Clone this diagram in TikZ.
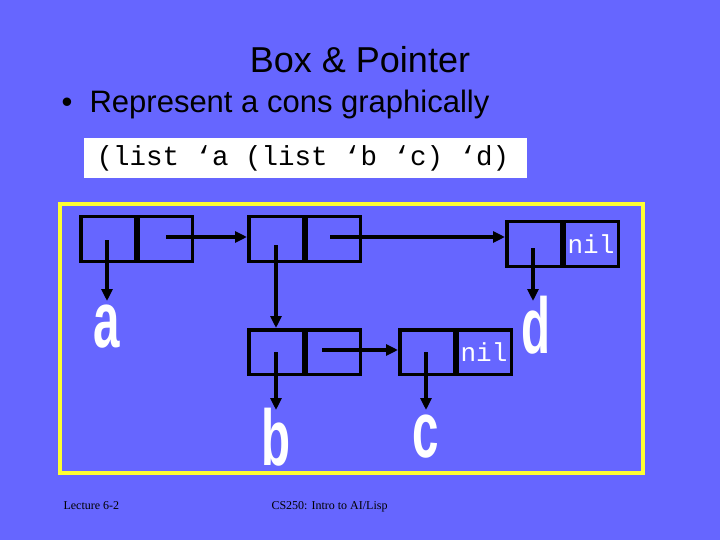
\documentclass[tikz,border=0pt]{standalone}
\usepackage{fontspec}
\usetikzlibrary{arrows.meta}
\setmainfont{Liberation Sans}
\newfontfamily\mono{Liberation Mono}
\newfontfamily\serifx{Liberation Serif}
\definecolor{bg}{HTML}{6666FF}
\definecolor{frame}{HTML}{FFFF33}
\begin{document}
\begin{tikzpicture}[x=1pt,y=-1pt,
  cell/.style={draw=black,line width=3.5pt,minimum width=54.5pt,minimum height=44.5pt,inner sep=0,anchor=north west},
  ptr/.style={line width=3.5pt,-{Triangle[length=12pt,width=11pt]}},
  big/.style={text=white,draw=none,font=\bfseries\fontsize{66}{66}\selectfont,xscale=0.72,yscale=1.2,inner sep=0},
  nilt/.style={text=white,font=\mono\fontsize{26}{26}\selectfont,inner sep=0}]
\useasboundingbox (0,0) rectangle (720,540);
\fill[bg] (0,0) rectangle (720,540);
\node[font=\fontsize{36}{40}\selectfont,anchor=base] (title) at (360,73) {Box \& Pointer};
\node[font=\fontsize{31}{36}\selectfont,anchor=base west] (bul) at (58,113) {\textbullet\ \ Represent a cons graphically};
\node[fill=white,minimum width=443pt,minimum height=40pt,anchor=north west,inner sep=0] (codebox) at (84,138) {};
\node[font=\mono\fontsize{27.5}{28}\selectfont,anchor=west] (code) at (93,158) {(list ‘a (list ‘b ‘c) ‘d)};
\draw[frame,line width=4pt] (60,204) rectangle (643,473);
\node[cell] (c1a) at (79,215) {}; \node[cell] (c1d) at (136,215) {};
\node[cell] (c2a) at (247,215) {}; \node[cell] (c2d) at (304,215) {};
\node[cell] (c3a) at (505,220) {}; \node[cell] (c3d) at (562,220) {};
\node[cell] (c4a) at (247,328) {}; \node[cell] (c4d) at (304,328) {};
\node[cell] (c5a) at (398,328) {}; \node[cell] (c5d) at (455,328) {};
\node[nilt] (nil3) at (c3d.center) {nil};
\node[nilt] (nil5) at (c5d.center) {nil};
\node[big] (la) at (107,327) {a};
\node[big] (lb) at (276,437) {b};
\node[big] (lc) at (426,437) {c};
\node[big] (ld) at (536,325) {d};
\coordinate (p1) at (107,240); \coordinate (q1) at (166,237);
\coordinate (p2) at (276,245); \coordinate (q2) at (330,237);
\coordinate (p3) at (533,248);
\coordinate (p4) at (276,352); \coordinate (q4) at (322,350);
\coordinate (p5) at (426,352);
\draw[ptr] (p1) -- (107,301);
\draw[ptr] (q1) -- (c2a.west|-q1);
\draw[ptr] (p2) -- (p2|-c4a.north);
\draw[ptr] (q2) -- (c3a.west|-q2);
\draw[ptr] (p3) -- (533,301);
\draw[ptr] (p4) -- (276,410);
\draw[ptr] (q4) -- (c5a.west|-q4);
\draw[ptr] (p5) -- (426,410);
\node[font=\serifx\fontsize{12}{12}\selectfont,anchor=base west] (f1) at (60,509) {Lecture 6-2};
\node[font=\serifx\fontsize{12}{12}\selectfont,anchor=base west] (f2) at (268,509) {CS250: Intro to AI/Lisp};
\end{tikzpicture}
\end{document}
